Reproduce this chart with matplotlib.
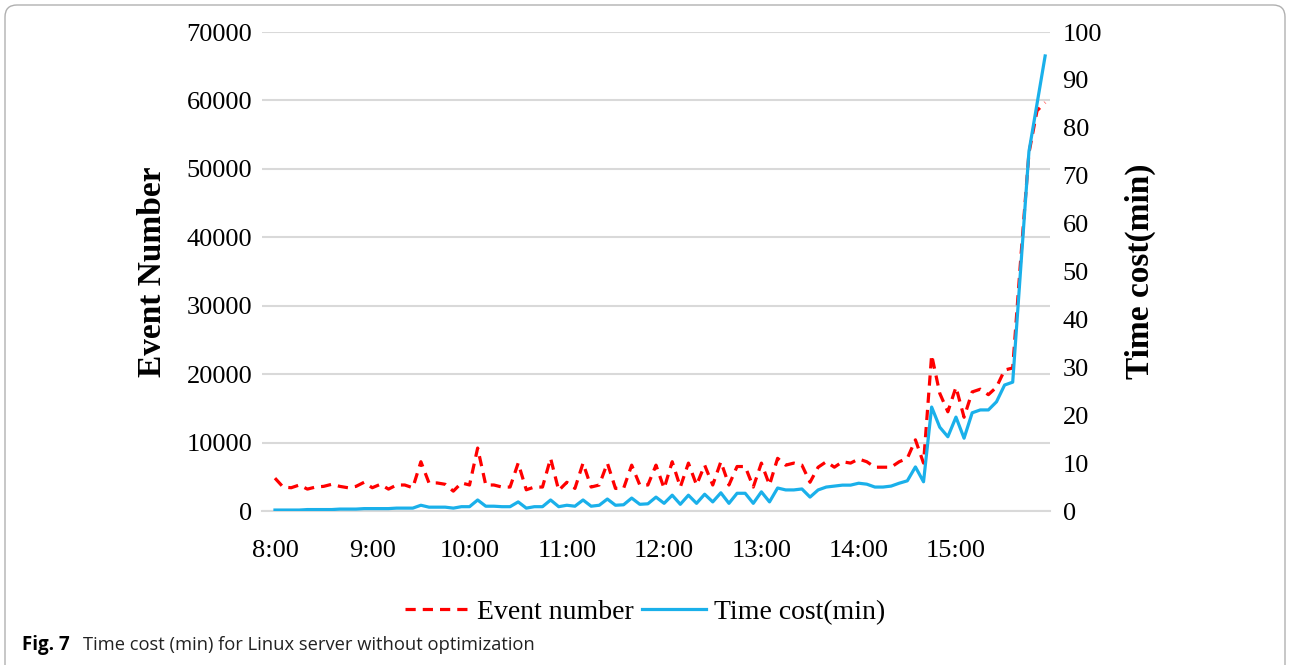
import matplotlib
matplotlib.use("Agg")
import matplotlib.pyplot as plt
from matplotlib.patches import FancyBboxPatch
import numpy as np

# 5-minute samples from 8:00 to 15:55
minutes = list(range(0, 480, 5))
event_number = [4800, 3500, 3400, 3800, 3200, 3500, 3600, 3900, 3600, 3400,
                3600, 4200, 3400, 3900, 3200, 3800, 3800, 3400, 7200, 4100,
                4100, 3900, 2900, 4100, 3800, 9200, 3800, 3800, 3500, 3500,
                7000, 3100, 3500, 3500, 7700, 3000, 4200, 3300, 7000, 3500,
                3800, 7000, 3300, 3300, 6700, 3800, 3800, 6700, 3300, 7200,
                3500, 7000, 3800, 6700, 3800, 7200, 3800, 6500, 6500, 3500,
                7000, 3800, 7700, 6700, 7000, 6700, 4200, 6400, 7200, 6400,
                7200, 7000, 7600, 7200, 6400, 6400, 6400, 7200, 7700, 10400,
                7000, 22800, 17200, 14500, 18100, 13700, 17400, 17800, 17000, 18100,
                20600, 20900, 37000, 52300, 58500, 59700]
time_cost = [0.2, 0.2, 0.2, 0.2, 0.3, 0.3, 0.3, 0.3, 0.4, 0.4,
             0.4, 0.5, 0.5, 0.5, 0.5, 0.6, 0.6, 0.6, 1.2, 0.8,
             0.8, 0.8, 0.6, 0.9, 0.9, 2.3, 1.0, 1.0, 0.9, 0.9,
             1.9, 0.6, 0.9, 0.9, 2.3, 0.9, 1.2, 1.0, 2.3, 1.0,
             1.2, 2.5, 1.2, 1.3, 2.7, 1.4, 1.5, 2.9, 1.6, 3.3,
             1.4, 3.3, 1.6, 3.5, 1.9, 3.8, 1.6, 3.7, 3.7, 1.6,
             4.0, 1.9, 4.8, 4.4, 4.4, 4.6, 2.9, 4.4, 5.0, 5.2,
             5.4, 5.4, 5.8, 5.6, 5.0, 5.0, 5.2, 5.8, 6.3, 9.2,
             6.1, 21.7, 17.5, 15.5, 19.6, 15.2, 20.5, 21.1, 21.1, 22.8,
             26.3, 26.9, 51.0, 75.0, 85.0, 95.0]
tick_minutes = [0, 60, 120, 180, 240, 300, 360, 420]
tick_labels = ["8:00", "9:00", "10:00", "11:00", "12:00", "13:00", "14:00", "15:00"]
left_ticks = [0, 10000, 20000, 30000, 40000, 50000, 60000, 70000]
right_ticks = [0, 10, 20, 30, 40, 50, 60, 70, 80, 90, 100]

SERIF = ["Liberation Serif", "DejaVu Serif"]
SANS = ["Open Sans", "DejaVu Sans"]
W, H = 1290, 665
fig = plt.figure(figsize=(W / 100, H / 100), dpi=100)

# frame with rounded corners
bg = fig.add_axes([0, 0, 1, 1], zorder=-5)
bg.set_xlim(0, W)
bg.set_ylim(H, 0)
bg.axis("off")
bg.add_patch(FancyBboxPatch((5, 5), W - 10, H + 40,
                            boxstyle="round,pad=0,rounding_size=12",
                            fc="white", ec="#b0b0b0", lw=1.0))

ax = fig.add_axes([262 / W, 154 / H, 788 / W, 479 / H])
ax.set_facecolor("none")
red_line, = ax.plot(minutes, event_number, color="#FF0000", lw=2.3,
                    ls=(0, (3.2, 2.2)), label="Event number", zorder=3)
ax.set_ylim(0, 70000)
ax.set_xlim(-8, 478)
ax.set_yticks(left_ticks)
ax.set_yticklabels([str(v) for v in left_ticks], family=SERIF, fontsize=19)
ax.set_xticks(tick_minutes)
ax.set_xticklabels(tick_labels, family=SERIF, fontsize=19)
ax.grid(axis="y", color="#d9d9d9", lw=1.5)
ax.set_axisbelow(True)
for s in ["top", "left", "right"]:
    ax.spines[s].set_visible(False)
ax.spines["bottom"].set_color("#d9d9d9")
ax.spines["bottom"].set_linewidth(1.5)
ax.tick_params(axis="y", length=0, pad=7, colors="black")
ax.tick_params(axis="x", length=0, pad=21, colors="black")
ax.set_ylabel("Event Number", family=SERIF, fontsize=24, fontweight="bold")
ax.yaxis.set_label_coords(-0.119, 0.5)

ax2 = ax.twinx()
blue_line, = ax2.plot(minutes, time_cost, color="#1AB0EA", lw=2.3,
                      label="Time cost(min)", zorder=3)
ax2.set_ylim(0, 100)
ax2.set_yticks(right_ticks)
ax2.set_yticklabels([str(v) for v in right_ticks], family=SERIF, fontsize=19)
for s in ["top", "left", "right", "bottom"]:
    ax2.spines[s].set_visible(False)
ax2.tick_params(axis="y", length=0, pad=9, colors="black")
ax2.set_ylabel("Time cost(min)", family=SERIF, fontsize=24, fontweight="bold")
ax2.yaxis.set_label_coords(1.095, 0.5)

fig.legend(handles=[red_line, blue_line], loc="center", bbox_to_anchor=(0.5, 1 - 612 / H),
           ncol=2, frameon=False, prop={"family": SERIF, "size": 20},
           handlelength=2.3, handletextpad=0.3, columnspacing=0.3)

fig.text(22 / W, 1 - 645 / H, "Fig. 7", fontsize=13.5, fontweight="bold",
         family=SANS, va="center", ha="left")
fig.text(83 / W, 1 - 645 / H, "Time cost (min) for Linux server without optimization",
         fontsize=13.2, family=SANS, va="center", ha="left", color="#222222")

fig.savefig("out.png", dpi=100)
